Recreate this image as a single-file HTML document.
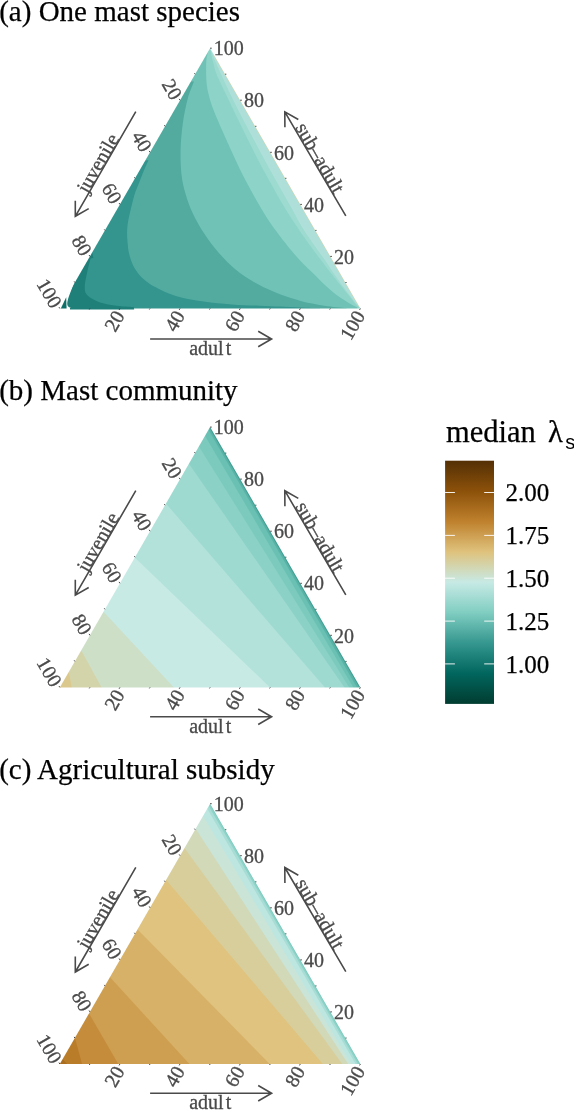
<!DOCTYPE html>
<html><head><meta charset="utf-8"><title>Ternary plots</title>
<style>
html,body{margin:0;padding:0;background:#fff;}
body{width:574px;height:1110px;overflow:hidden;font-family:"Liberation Serif",serif;}
svg{display:block;}
text{font-family:"Liberation Serif",serif;}
.ti{font-size:29px;fill:#000;stroke:#000;stroke-width:0.25px;}
.tl{font-size:20px;fill:#4a4a4a;stroke:#4a4a4a;stroke-width:0.3px;}
.at{font-size:20px;fill:#4a4a4a;stroke:#4a4a4a;stroke-width:0.3px;}
.ll{font-size:25px;fill:#000;stroke:#000;stroke-width:0.25px;}
.lt{font-size:30.5px;fill:#000;stroke:#000;stroke-width:0.25px;}
.ss{font-family:"Liberation Sans",sans-serif;font-size:20px;fill:#000;}
.tk{stroke:#333;stroke-width:0.9;}
.ar{stroke:#4a4a4a;stroke-width:1.6;fill:none;stroke-linecap:butt;stroke-linejoin:miter;}
</style></head><body>
<svg width="574" height="1110" viewBox="0 0 574 1110">
<rect width="574" height="1110" fill="#fff"/>
<g opacity="0.999">
<text x="-0.8" y="20.6" class="ti">(a) One mast species</text>
<text x="-0.8" y="400.3" class="ti">(b) Mast community</text>
<text x="-0.8" y="778.5" class="ti">(c) Agricultural subsidy</text>
<mask id="clipA" maskUnits="userSpaceOnUse" x="0" y="38.2" width="430" height="280.3"><polygon points="210.1,48.2 59.8,308.5 360.4,308.5" fill="#fff"/></mask><g mask="url(#clipA)">
<rect x="0" y="43.2" width="420" height="270.3" fill="#aee0d9"/>
<line x1="214.1" y1="55.2" x2="359.4" y2="306.8" stroke="#d9cfa0" stroke-width="0.9"/>
<path d="M210.2 48.3C210.7 49.6 212.1 53.5 213.1 56.0C214.1 58.5 214.6 59.8 216.1 63.0C217.5 66.2 218.8 69.3 221.7 75.5C224.5 81.7 229.2 91.8 233.2 100.0C237.3 108.2 241.6 116.7 246.0 125.0C250.3 133.3 255.4 142.5 259.4 150.0C263.4 157.5 265.0 160.7 270.1 170.0C275.3 179.3 285.3 196.8 290.4 206.0C295.5 215.2 297.5 219.3 300.9 225.0C304.2 230.7 306.6 234.2 310.6 240.0C314.6 245.8 321.2 254.7 324.9 260.0C328.6 265.3 330.1 268.0 332.8 272.0C335.6 276.0 338.4 280.0 341.3 284.0C344.1 288.0 347.5 292.5 350.2 296.0C352.8 299.5 355.5 302.9 357.2 305.0C358.9 307.1 359.9 307.9 360.4 308.5L360.4 348.5L-40.0 348.5L-40.0 48.3L210.2 48.3Z" fill="#9ddad0"/>
<path d="M210.2 48.3C210.4 49.6 211.1 53.5 211.6 56.0C212.1 58.5 212.4 59.8 213.3 63.0C214.2 66.2 214.5 69.3 217.1 75.5C219.7 81.7 224.8 91.8 228.7 100.0C232.7 108.2 236.6 116.7 240.7 125.0C244.7 133.3 249.3 142.5 253.1 150.0C256.9 157.5 258.3 160.7 263.4 170.0C268.5 179.3 278.3 196.8 283.7 206.0C289.1 215.2 292.2 219.3 295.9 225.0C299.6 230.7 301.9 234.2 306.1 240.0C310.2 245.8 316.9 254.7 320.9 260.0C324.9 265.3 326.9 268.0 330.0 272.0C333.1 276.0 336.3 280.0 339.5 284.0C342.6 288.0 346.4 292.5 349.2 296.0C352.0 299.5 354.5 302.9 356.4 305.0C358.2 307.1 359.7 307.9 360.4 308.5L360.4 348.5L-40.0 348.5L-40.0 48.3L210.2 48.3Z" fill="#8dd3c8"/>
<path d="M209.3 49.5C209.0 50.2 208.0 51.8 207.5 54.0C207.0 56.2 206.4 58.3 206.2 63.0C206.0 67.7 206.1 76.8 206.5 82.0C206.9 87.2 207.6 90.0 208.5 94.0C209.4 98.0 210.6 102.0 212.0 106.0C213.4 110.0 215.1 114.0 216.8 118.0C218.5 122.0 219.6 124.7 222.0 130.0C224.4 135.3 228.0 143.4 231.0 150.0C234.0 156.6 236.8 162.9 240.0 169.5C243.2 176.1 246.9 182.9 250.5 189.5C254.1 196.1 257.7 202.7 261.5 209.0C265.3 215.3 268.4 220.4 273.5 227.5C278.6 234.6 286.8 245.0 292.0 251.3C297.2 257.6 301.0 261.4 305.0 265.5C309.0 269.6 312.7 272.8 315.9 276.0C319.1 279.2 320.9 281.4 324.4 284.6C327.8 287.8 332.5 291.9 336.6 295.0C340.7 298.1 345.4 300.9 348.8 303.0C352.2 305.1 355.9 306.8 357.3 307.6L357.3 347.6L-40.0 347.6L-40.0 49.5L209.3 49.5Z" fill="#70c2b6"/>
<path d="M194.0 81.6C193.0 84.4 189.7 91.5 187.8 98.5C185.9 105.5 184.0 115.0 182.8 123.6C181.6 132.2 180.8 141.5 180.6 150.0C180.4 158.5 180.7 167.1 181.5 174.4C182.3 181.7 183.7 187.4 185.6 193.9C187.5 200.4 189.8 206.9 192.9 213.4C196.0 219.9 199.6 226.4 203.9 232.9C208.2 239.4 213.2 246.3 218.5 252.4C223.8 258.5 229.1 264.2 235.6 269.5C242.1 274.8 249.9 279.8 257.6 284.1C265.3 288.4 274.9 292.3 282.0 295.1C289.1 297.9 295.0 299.3 300.0 300.7C305.0 302.1 308.1 302.8 312.2 303.6C316.3 304.5 320.3 305.2 324.4 305.8C328.5 306.4 332.9 306.9 336.6 307.3C340.3 307.7 344.9 308.1 346.6 308.2L346.6 348.2L-40.0 348.2L-40.0 81.6L194.0 81.6Z" fill="#53aba0"/>
<path d="M148.5 160.2C147.6 162.2 145.0 168.0 143.3 172.0C141.7 176.0 140.2 179.7 138.6 184.0C137.0 188.3 135.4 191.0 133.6 197.9C131.8 204.8 128.5 217.8 127.5 225.7C126.5 233.5 127.4 239.8 127.8 245.0C128.2 250.2 128.9 253.2 130.0 257.0C131.1 260.8 132.4 264.5 134.5 268.0C136.6 271.5 138.7 274.6 142.3 277.9C145.9 281.2 150.6 284.6 156.2 287.6C161.8 290.6 167.9 293.7 175.8 296.0C183.7 298.3 194.3 300.2 203.6 301.6C212.9 303.0 222.2 303.7 231.5 304.4C240.8 305.1 251.3 305.3 259.4 305.7C267.5 306.1 273.2 306.3 280.0 306.6C286.8 306.9 293.3 307.2 300.0 307.5C306.7 307.8 316.7 308.2 320.0 308.3L320.0 348.3L-40.0 348.3L-40.0 160.2L148.5 160.2Z" fill="#33958e"/>
<path d="M91.3 255.9C90.7 258.3 88.7 265.1 87.6 270.3C86.5 275.5 84.8 282.8 84.8 287.0C84.8 291.2 85.0 292.8 87.6 295.4C90.2 298.0 95.3 300.7 100.2 302.4C105.1 304.1 111.4 304.9 116.9 305.7C122.4 306.5 130.3 306.8 133.0 307.0L133.0 347.0L-40.0 347.0L-40.0 255.9L91.3 255.9Z" fill="#1f807a"/>
</g>
<path d="M58 309.5L74 283.0L69 296.0Q66.5 303.0 67.5 305.5Q68.2 307.4 71 308.0L71 309.5Z" fill="#fff"/>
<polygon points="60.8,308.5 66.6,308.5 66.2,297.2" fill="#0e7068"/>
<polygon points="70.0,308.0 132.5,308.0 133.6,306.6 134.2,309.5 70.0,309.5" fill="#1f807a"/>
<polygon points="89.6,258.8 92.3,252.6 93.4,258.0" fill="#1f807a"/>
<line x1="89.9" y1="308.5" x2="89.3" y2="309.5" class="tk"/>
<line x1="345.4" y1="282.5" x2="346.6" y2="282.5" class="tk"/>
<line x1="195.1" y1="74.2" x2="194.5" y2="73.2" class="tk"/>
<line x1="119.9" y1="308.5" x2="119.1" y2="309.9" class="tk"/>
<text transform="translate(118.2,311.5) rotate(-60)" x="0" y="8.26" text-anchor="end" class="tl">20</text>
<line x1="330.3" y1="256.4" x2="331.9" y2="256.4" class="tk"/>
<text x="334.0" y="263.6" class="tl">20</text>
<line x1="180.0" y1="100.2" x2="179.2" y2="98.9" class="tk"/>
<text transform="translate(178.3,97.2) rotate(60)" x="0" y="8.26" text-anchor="end" class="tl">20</text>
<line x1="150.0" y1="308.5" x2="149.4" y2="309.5" class="tk"/>
<line x1="315.3" y1="230.4" x2="316.5" y2="230.4" class="tk"/>
<line x1="165.0" y1="126.3" x2="164.4" y2="125.2" class="tk"/>
<line x1="180.0" y1="308.5" x2="179.2" y2="309.9" class="tk"/>
<text transform="translate(178.3,311.5) rotate(-60)" x="0" y="8.26" text-anchor="end" class="tl">40</text>
<line x1="300.3" y1="204.4" x2="301.9" y2="204.4" class="tk"/>
<text x="304.0" y="211.5" class="tl">40</text>
<line x1="150.0" y1="152.3" x2="149.2" y2="150.9" class="tk"/>
<text transform="translate(148.2,149.3) rotate(60)" x="0" y="8.26" text-anchor="end" class="tl">40</text>
<line x1="210.1" y1="308.5" x2="209.5" y2="309.5" class="tk"/>
<line x1="285.2" y1="178.3" x2="286.4" y2="178.3" class="tk"/>
<line x1="135.0" y1="178.3" x2="134.4" y2="177.3" class="tk"/>
<line x1="240.2" y1="308.5" x2="239.4" y2="309.9" class="tk"/>
<text transform="translate(238.4,311.5) rotate(-60)" x="0" y="8.26" text-anchor="end" class="tl">60</text>
<line x1="270.2" y1="152.3" x2="271.8" y2="152.3" class="tk"/>
<text x="273.9" y="159.5" class="tl">60</text>
<line x1="119.9" y1="204.4" x2="119.1" y2="203.0" class="tk"/>
<text transform="translate(118.2,201.3) rotate(60)" x="0" y="8.26" text-anchor="end" class="tl">60</text>
<line x1="270.2" y1="308.5" x2="269.6" y2="309.5" class="tk"/>
<line x1="255.2" y1="126.3" x2="256.4" y2="126.3" class="tk"/>
<line x1="104.9" y1="230.4" x2="104.3" y2="229.4" class="tk"/>
<line x1="300.3" y1="308.5" x2="299.5" y2="309.9" class="tk"/>
<text transform="translate(298.5,311.5) rotate(-60)" x="0" y="8.26" text-anchor="end" class="tl">80</text>
<line x1="240.2" y1="100.2" x2="241.8" y2="100.2" class="tk"/>
<text x="243.9" y="107.4" class="tl">80</text>
<line x1="89.9" y1="256.4" x2="89.1" y2="255.0" class="tk"/>
<text transform="translate(88.1,253.4) rotate(60)" x="0" y="8.26" text-anchor="end" class="tl">80</text>
<line x1="330.3" y1="308.5" x2="329.7" y2="309.5" class="tk"/>
<line x1="225.1" y1="74.2" x2="226.3" y2="74.2" class="tk"/>
<line x1="74.8" y1="282.5" x2="74.2" y2="281.4" class="tk"/>
<line x1="360.4" y1="308.5" x2="359.6" y2="309.9" class="tk"/>
<text transform="translate(358.7,311.5) rotate(-60)" x="0" y="8.26" text-anchor="end" class="tl">100</text>
<line x1="210.1" y1="48.2" x2="211.7" y2="48.2" class="tk"/>
<text x="213.8" y="55.3" class="tl">100</text>
<line x1="59.8" y1="308.5" x2="59.0" y2="307.1" class="tk"/>
<text transform="translate(58.1,305.5) rotate(60)" x="0" y="8.26" text-anchor="end" class="tl">100</text>
<path d="M135.8 111.7L75.3 216.3M88.7 208.6L75.3 216.3L75.3 200.8" class="ar"/>
<path d="M345.8 215.9L284.8 111.8M284.9 127.3L284.8 111.8L298.3 119.5" class="ar"/>
<path d="M150.1 339.0L271.6 339.0M258.2 331.2L271.6 339.0L258.2 346.8" class="ar"/>
<text transform="translate(105.6,164.0) rotate(-60)" x="-3" y="-0.5" text-anchor="middle" class="at">juvenile</text>
<text transform="translate(315.3,163.8) rotate(60)" x="-2.7" y="-0.5" text-anchor="middle" class="at">sub–adult</text>
<text x="210.2" y="354.8" text-anchor="middle" class="at">adul<tspan dx="2">t</tspan></text>
<mask id="clipB" maskUnits="userSpaceOnUse" x="0" y="417.1" width="430" height="280.3"><polygon points="210.1,427.1 59.8,687.4 360.4,687.4" fill="#fff"/></mask><g mask="url(#clipB)">
<rect x="0" y="422.1" width="420" height="270.3" fill="#58b3a6"/>
<polygon points="193.3,403.4 371.9,713.4 -40.0,747.4 -40.0,403.4" fill="#6bc0b4"/>
<polygon points="189.3,409.3 368.6,713.2 -40.0,747.4 -40.0,409.3" fill="#7ccabe"/>
<polygon points="183.4,421.7 365.1,712.9 -40.0,747.4 -40.0,421.7" fill="#8bd1c6"/>
<polygon points="172.4,440.0 361.5,712.0 -40.0,747.4 -40.0,440.0" fill="#9fdad1"/>
<polygon points="147.1,481.8 344.4,710.1 -40.0,747.4 -40.0,481.8" fill="#b3e2db"/>
<polygon points="113.4,537.0 291.6,708.2 -40.0,747.4 -40.0,537.0" fill="#c7eae5"/>
<polygon points="83.4,589.9 194.4,709.4 -40.0,747.4 -40.0,589.9" fill="#cedfc8"/>
<polygon points="66.7,624.0 116.1,713.7 -40.0,747.4 -40.0,624.0" fill="#d4d4ab"/>
<polygon points="63.6,643.1 77.1,716.9 -40.0,747.4 -40.0,643.1" fill="#dbc88d"/>
<line x1="210.1" y1="427.1" x2="360.4" y2="687.4" stroke="#3f9d92" stroke-width="2"/>
</g>
<line x1="89.9" y1="687.4" x2="89.3" y2="688.4" class="tk"/>
<line x1="345.4" y1="661.4" x2="346.6" y2="661.4" class="tk"/>
<line x1="195.1" y1="453.1" x2="194.5" y2="452.1" class="tk"/>
<line x1="119.9" y1="687.4" x2="119.1" y2="688.8" class="tk"/>
<text transform="translate(118.2,690.4) rotate(-60)" x="0" y="8.26" text-anchor="end" class="tl">20</text>
<line x1="330.3" y1="635.3" x2="331.9" y2="635.3" class="tk"/>
<text x="334.0" y="642.5" class="tl">20</text>
<line x1="180.0" y1="479.1" x2="179.2" y2="477.8" class="tk"/>
<text transform="translate(178.3,476.1) rotate(60)" x="0" y="8.26" text-anchor="end" class="tl">20</text>
<line x1="150.0" y1="687.4" x2="149.4" y2="688.4" class="tk"/>
<line x1="315.3" y1="609.3" x2="316.5" y2="609.3" class="tk"/>
<line x1="165.0" y1="505.2" x2="164.4" y2="504.1" class="tk"/>
<line x1="180.0" y1="687.4" x2="179.2" y2="688.8" class="tk"/>
<text transform="translate(178.3,690.4) rotate(-60)" x="0" y="8.26" text-anchor="end" class="tl">40</text>
<line x1="300.3" y1="583.3" x2="301.9" y2="583.3" class="tk"/>
<text x="304.0" y="590.4" class="tl">40</text>
<line x1="150.0" y1="531.2" x2="149.2" y2="529.8" class="tk"/>
<text transform="translate(148.2,528.2) rotate(60)" x="0" y="8.26" text-anchor="end" class="tl">40</text>
<line x1="210.1" y1="687.4" x2="209.5" y2="688.4" class="tk"/>
<line x1="285.2" y1="557.2" x2="286.4" y2="557.2" class="tk"/>
<line x1="135.0" y1="557.2" x2="134.4" y2="556.2" class="tk"/>
<line x1="240.2" y1="687.4" x2="239.4" y2="688.8" class="tk"/>
<text transform="translate(238.4,690.4) rotate(-60)" x="0" y="8.26" text-anchor="end" class="tl">60</text>
<line x1="270.2" y1="531.2" x2="271.8" y2="531.2" class="tk"/>
<text x="273.9" y="538.4" class="tl">60</text>
<line x1="119.9" y1="583.3" x2="119.1" y2="581.9" class="tk"/>
<text transform="translate(118.2,580.2) rotate(60)" x="0" y="8.26" text-anchor="end" class="tl">60</text>
<line x1="270.2" y1="687.4" x2="269.6" y2="688.4" class="tk"/>
<line x1="255.2" y1="505.2" x2="256.4" y2="505.2" class="tk"/>
<line x1="104.9" y1="609.3" x2="104.3" y2="608.3" class="tk"/>
<line x1="300.3" y1="687.4" x2="299.5" y2="688.8" class="tk"/>
<text transform="translate(298.5,690.4) rotate(-60)" x="0" y="8.26" text-anchor="end" class="tl">80</text>
<line x1="240.2" y1="479.1" x2="241.8" y2="479.1" class="tk"/>
<text x="243.9" y="486.3" class="tl">80</text>
<line x1="89.9" y1="635.3" x2="89.1" y2="633.9" class="tk"/>
<text transform="translate(88.1,632.3) rotate(60)" x="0" y="8.26" text-anchor="end" class="tl">80</text>
<line x1="330.3" y1="687.4" x2="329.7" y2="688.4" class="tk"/>
<line x1="225.1" y1="453.1" x2="226.3" y2="453.1" class="tk"/>
<line x1="74.8" y1="661.4" x2="74.2" y2="660.3" class="tk"/>
<line x1="360.4" y1="687.4" x2="359.6" y2="688.8" class="tk"/>
<text transform="translate(358.7,690.4) rotate(-60)" x="0" y="8.26" text-anchor="end" class="tl">100</text>
<line x1="210.1" y1="427.1" x2="211.7" y2="427.1" class="tk"/>
<text x="213.8" y="434.2" class="tl">100</text>
<line x1="59.8" y1="687.4" x2="59.0" y2="686.0" class="tk"/>
<text transform="translate(58.1,684.4) rotate(60)" x="0" y="8.26" text-anchor="end" class="tl">100</text>
<path d="M135.8 490.6L75.3 595.2M88.7 587.5L75.3 595.2L75.3 579.7" class="ar"/>
<path d="M345.8 594.8L284.8 490.7M284.9 506.2L284.8 490.7L298.3 498.4" class="ar"/>
<path d="M150.1 716.8L271.6 716.8M258.2 709.0L271.6 716.8L258.2 724.5" class="ar"/>
<text transform="translate(105.6,542.9) rotate(-60)" x="-3" y="-0.5" text-anchor="middle" class="at">juvenile</text>
<text transform="translate(315.3,542.8) rotate(60)" x="-2.7" y="-0.5" text-anchor="middle" class="at">sub–adult</text>
<text x="210.2" y="732.6" text-anchor="middle" class="at">adul<tspan dx="2">t</tspan></text>
<mask id="clipC" maskUnits="userSpaceOnUse" x="0" y="793.7" width="430" height="280.3"><polygon points="210.1,803.7 59.8,1064.0 360.4,1064.0" fill="#fff"/></mask><g mask="url(#clipC)">
<rect x="0" y="798.7" width="420" height="270.3" fill="#8dd3c8"/>
<polygon points="193.3,779.4 372.9,1090.0 -40.0,1124.0 -40.0,779.4" fill="#a8ddd6"/>
<polygon points="191.7,781.9 370.7,1089.9 -40.0,1124.0 -40.0,781.9" fill="#bde6e0"/>
<polygon points="187.6,790.1 366.6,1089.8 -40.0,1124.0 -40.0,790.1" fill="#cae4d7"/>
<polygon points="179.2,803.2 364.5,1089.2 -40.0,1124.0 -40.0,803.2" fill="#d1d9b9"/>
<polygon points="166.7,823.8 360.0,1088.2 -40.0,1124.0 -40.0,823.8" fill="#d8ce9c"/>
<polygon points="146.8,857.2 342.2,1086.8 -40.0,1124.0 -40.0,857.2" fill="#dfc37f"/>
<polygon points="116.5,908.1 290.9,1085.4 -40.0,1124.0 -40.0,908.1" fill="#d7b168"/>
<polygon points="89.7,955.0 209.6,1086.1 -40.0,1124.0 -40.0,955.0" fill="#ce9f51"/>
<polygon points="74.0,987.4 133.3,1090.0 -40.0,1124.0 -40.0,987.4" fill="#c58c3b"/>
<polygon points="67.2,1009.6 90.0,1092.9 -40.0,1124.0 -40.0,1009.6" fill="#b97c29"/>
<polygon points="42.3,1037.1 87.3,1086.1 -40.0,1124.0 -40.0,1037.1" fill="#ab6e1f"/>
<line x1="210.1" y1="803.7" x2="360.4" y2="1064.0" stroke="#78c8bb" stroke-width="1.4"/>
</g>
<line x1="89.9" y1="1064.0" x2="89.3" y2="1065.0" class="tk"/>
<line x1="345.4" y1="1038.0" x2="346.6" y2="1038.0" class="tk"/>
<line x1="195.1" y1="829.7" x2="194.5" y2="828.7" class="tk"/>
<line x1="119.9" y1="1064.0" x2="119.1" y2="1065.4" class="tk"/>
<text transform="translate(118.2,1067.0) rotate(-60)" x="0" y="8.26" text-anchor="end" class="tl">20</text>
<line x1="330.3" y1="1011.9" x2="331.9" y2="1011.9" class="tk"/>
<text x="334.0" y="1019.1" class="tl">20</text>
<line x1="180.0" y1="855.7" x2="179.2" y2="854.4" class="tk"/>
<text transform="translate(178.3,852.7) rotate(60)" x="0" y="8.26" text-anchor="end" class="tl">20</text>
<line x1="150.0" y1="1064.0" x2="149.4" y2="1065.0" class="tk"/>
<line x1="315.3" y1="985.9" x2="316.5" y2="985.9" class="tk"/>
<line x1="165.0" y1="881.8" x2="164.4" y2="880.7" class="tk"/>
<line x1="180.0" y1="1064.0" x2="179.2" y2="1065.4" class="tk"/>
<text transform="translate(178.3,1067.0) rotate(-60)" x="0" y="8.26" text-anchor="end" class="tl">40</text>
<line x1="300.3" y1="959.9" x2="301.9" y2="959.9" class="tk"/>
<text x="304.0" y="967.0" class="tl">40</text>
<line x1="150.0" y1="907.8" x2="149.2" y2="906.4" class="tk"/>
<text transform="translate(148.2,904.8) rotate(60)" x="0" y="8.26" text-anchor="end" class="tl">40</text>
<line x1="210.1" y1="1064.0" x2="209.5" y2="1065.0" class="tk"/>
<line x1="285.2" y1="933.8" x2="286.4" y2="933.8" class="tk"/>
<line x1="135.0" y1="933.8" x2="134.4" y2="932.8" class="tk"/>
<line x1="240.2" y1="1064.0" x2="239.4" y2="1065.4" class="tk"/>
<text transform="translate(238.4,1067.0) rotate(-60)" x="0" y="8.26" text-anchor="end" class="tl">60</text>
<line x1="270.2" y1="907.8" x2="271.8" y2="907.8" class="tk"/>
<text x="273.9" y="915.0" class="tl">60</text>
<line x1="119.9" y1="959.9" x2="119.1" y2="958.5" class="tk"/>
<text transform="translate(118.2,956.8) rotate(60)" x="0" y="8.26" text-anchor="end" class="tl">60</text>
<line x1="270.2" y1="1064.0" x2="269.6" y2="1065.0" class="tk"/>
<line x1="255.2" y1="881.8" x2="256.4" y2="881.8" class="tk"/>
<line x1="104.9" y1="985.9" x2="104.3" y2="984.9" class="tk"/>
<line x1="300.3" y1="1064.0" x2="299.5" y2="1065.4" class="tk"/>
<text transform="translate(298.5,1067.0) rotate(-60)" x="0" y="8.26" text-anchor="end" class="tl">80</text>
<line x1="240.2" y1="855.7" x2="241.8" y2="855.7" class="tk"/>
<text x="243.9" y="862.9" class="tl">80</text>
<line x1="89.9" y1="1011.9" x2="89.1" y2="1010.5" class="tk"/>
<text transform="translate(88.1,1008.9) rotate(60)" x="0" y="8.26" text-anchor="end" class="tl">80</text>
<line x1="330.3" y1="1064.0" x2="329.7" y2="1065.0" class="tk"/>
<line x1="225.1" y1="829.7" x2="226.3" y2="829.7" class="tk"/>
<line x1="74.8" y1="1038.0" x2="74.2" y2="1036.9" class="tk"/>
<line x1="360.4" y1="1064.0" x2="359.6" y2="1065.4" class="tk"/>
<text transform="translate(358.7,1067.0) rotate(-60)" x="0" y="8.26" text-anchor="end" class="tl">100</text>
<line x1="210.1" y1="803.7" x2="211.7" y2="803.7" class="tk"/>
<text x="213.8" y="810.8" class="tl">100</text>
<line x1="59.8" y1="1064.0" x2="59.0" y2="1062.6" class="tk"/>
<text transform="translate(58.1,1061.0) rotate(60)" x="0" y="8.26" text-anchor="end" class="tl">100</text>
<path d="M135.8 867.4L75.3 972.0M88.7 964.3L75.3 972.0L75.3 956.5" class="ar"/>
<path d="M345.8 971.6L284.8 867.5M284.9 883.0L284.8 867.5L298.3 875.2" class="ar"/>
<path d="M150.1 1093.3L271.6 1093.3M258.2 1085.5L271.6 1093.3L258.2 1101.0" class="ar"/>
<text transform="translate(105.6,919.7) rotate(-60)" x="-3" y="-0.5" text-anchor="middle" class="at">juvenile</text>
<text transform="translate(315.3,919.6) rotate(60)" x="-2.7" y="-0.5" text-anchor="middle" class="at">sub–adult</text>
<text x="210.2" y="1109.1" text-anchor="middle" class="at">adul<tspan dx="2">t</tspan></text>
<defs><linearGradient id="cb" x1="0" y1="0" x2="0" y2="1"><stop offset="0.0000" stop-color="#543005"/><stop offset="0.1250" stop-color="#8c510a"/><stop offset="0.2500" stop-color="#bf812d"/><stop offset="0.3750" stop-color="#dfc27d"/><stop offset="0.5000" stop-color="#c7eae5"/><stop offset="0.6250" stop-color="#80cdc1"/><stop offset="0.7500" stop-color="#35978f"/><stop offset="0.8750" stop-color="#01665e"/><stop offset="1.0000" stop-color="#003c30"/></linearGradient></defs>
<rect x="445.1" y="460.7" width="48.9" height="243.2" fill="url(#cb)"/>
<path d="M445.1 492.5h9.8M494.0 492.5h-9.8" stroke="#fff" stroke-width="1" opacity="0.9"/>
<text x="505.6" y="501.2" class="ll">2.00</text>
<path d="M445.1 535.4h9.8M494.0 535.4h-9.8" stroke="#fff" stroke-width="1" opacity="0.9"/>
<text x="505.6" y="544.1" class="ll">1.75</text>
<path d="M445.1 578.2h9.8M494.0 578.2h-9.8" stroke="#fff" stroke-width="1" opacity="0.9"/>
<text x="505.6" y="587.0" class="ll">1.50</text>
<path d="M445.1 621.1h9.8M494.0 621.1h-9.8" stroke="#fff" stroke-width="1" opacity="0.9"/>
<text x="505.6" y="629.9" class="ll">1.25</text>
<path d="M445.1 663.9h9.8M494.0 663.9h-9.8" stroke="#fff" stroke-width="1" opacity="0.9"/>
<text x="505.6" y="672.6" class="ll">1.00</text>
<text x="446" y="442.4" class="lt">median</text>
<text x="548" y="442.4" class="lt">λ</text>
<text x="565.2" y="449" class="ss">s</text>
</g>
</svg>
</body></html>
